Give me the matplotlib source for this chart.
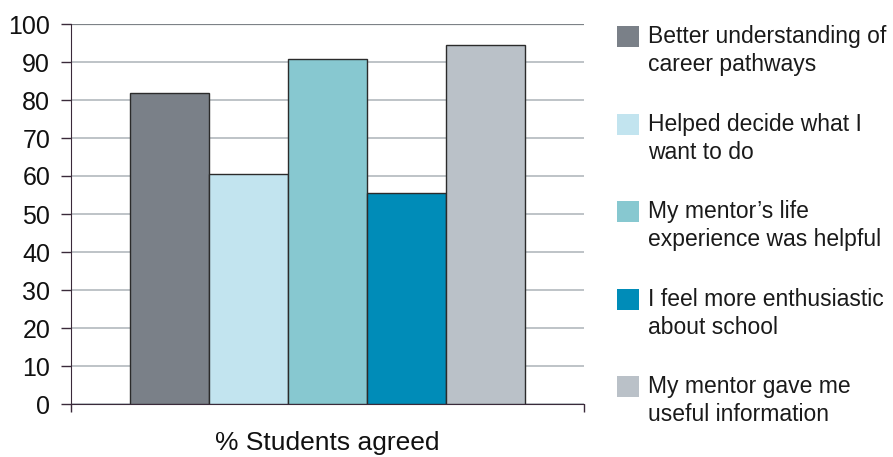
import numpy as np
import matplotlib.pyplot as plt
from matplotlib.patches import Rectangle

plt.rcParams['font.family'] = ['Liberation Sans', 'DejaVu Sans']

labels = ['Better understanding of\ncareer pathways',
          'Helped decide what I\nwant to do',
          'My mentor\u2019s life\nexperience was helpful',
          'I feel more enthusiastic\nabout school',
          'My mentor gave me\nuseful information']
values = [81.9, 60.6, 90.8, 55.6, 94.6]
colors = ['#7a8088', '#c2e4ef', '#87c8d0', '#008cb8', '#bac1c8']
yticks = [0, 10, 20, 30, 40, 50, 60, 70, 80, 90, 100]

W, H = 893, 457
fig = plt.figure(figsize=(W/100, H/100), dpi=100)
ax = fig.add_axes([71/W, 1 - 404/H, (584 - 71)/W, (404 - 24)/H])

x = np.arange(len(values))
bars = ax.bar(x, values, width=1.0, color=colors, edgecolor='#2b2b2b',
              linewidth=1.0, zorder=3)

ax.set_ylim(0, 100)
ax.set_xlim(-1.25, 5.25)
ax.set_yticks(yticks)
ax.yaxis.grid(True, color='#b9bec3', linewidth=1.3, zorder=0)
ax.set_axisbelow(True)
ax.set_xticks([-1.25, 5.25])
ax.set_xticklabels(['', ''])
ax.tick_params(axis='y', direction='out', length=7, width=1, colors='#3a2a3a',
               labelsize=18, labelcolor='#111111', pad=8)
ax.tick_params(axis='x', direction='out', length=6, width=1, colors='#3a2a3a')
ax.spines['top'].set_visible(False)
ax.spines['right'].set_visible(False)
ax.spines['left'].set_color('#3a2a3a')
ax.spines['bottom'].set_color('#3a2a3a')
# darker top gridline at 100
ax.axhline(100, color='#7d8287', linewidth=1.6, zorder=1)

ax.set_xlabel('% Students agreed', fontsize=19, color='#111111', labelpad=10)

# legend drawn by hand: square next to first line of each label
for i, (lab, col) in enumerate(zip(labels, colors)):
    base = 43 + i * 87.5
    fig.patches.append(Rectangle((617/W, 1 - (base + 4)/H), 22/W, 21/H,
                                 transform=fig.transFigure, facecolor=col,
                                 edgecolor='none'))
    for j, line in enumerate(lab.split('\n')):
        fig.text(648/W, 1 - (base + j * 28.4)/H, line, fontsize=16.5,
                 color='#1a1a1a', va='baseline', ha='left')

fig.savefig('out.png', dpi=100)
